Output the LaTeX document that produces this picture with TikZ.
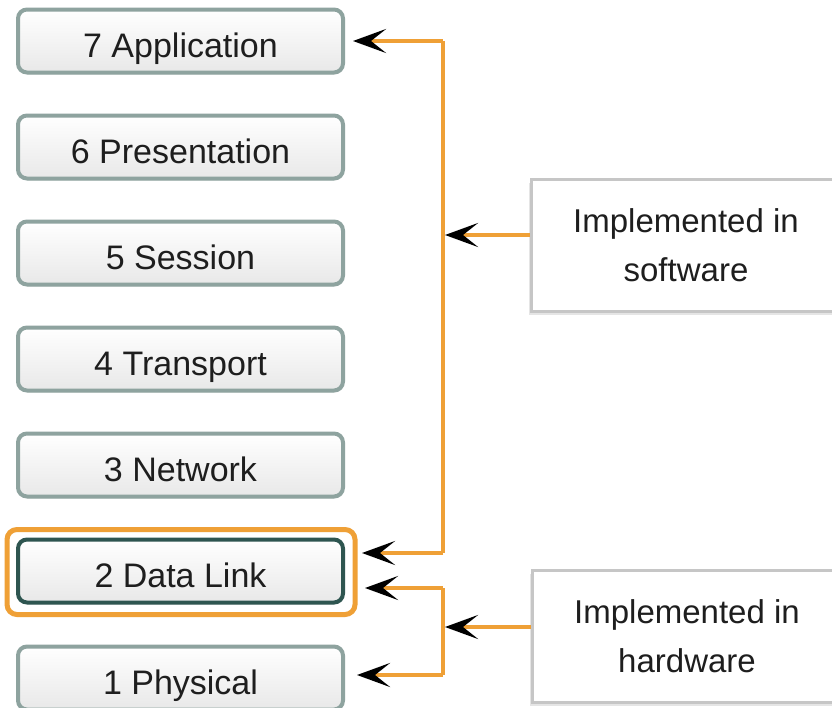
\documentclass[tikz,border=0pt]{standalone}
\usepackage{fontspec}
\setmainfont{Liberation Sans}
\usetikzlibrary{arrows.meta,shadows}

\definecolor{wire}{HTML}{EFA036}
\definecolor{layerline}{HTML}{8EA39F}
\definecolor{activeline}{HTML}{2E5550}
\definecolor{noteline}{HTML}{C6C6C6}
\definecolor{ink}{HTML}{1E1E1E}

\tikzset{
  layer/.style={draw=layerline, line width=4pt, rounded corners=9pt,
    minimum width=325pt, minimum height=63pt, inner sep=0pt,
    text height=40pt, text depth=8pt,
    top color=white, bottom color=black!9, text=ink,
    font=\fontsize{34}{40}\selectfont,
    drop shadow={opacity=0.15, shadow xshift=1pt, shadow yshift=-2pt}},
  note/.style={draw=noteline, line width=3pt, fill=white,
    minimum width=310pt, minimum height=132pt, inner sep=0pt,
    align=center, text=ink,
    font=\fontsize{33}{49}\selectfont,
    drop shadow={opacity=0.2, shadow xshift=-2pt, shadow yshift=-3pt}},
  conn/.style={draw=wire, line width=4pt,
    -{Stealth[black, length=33pt, width=24pt, inset=15pt]}},
  wireline/.style={draw=wire, line width=4pt},
  highlight/.style={draw=wire, line width=5pt, rounded corners=10pt},
}

\begin{document}
\begin{tikzpicture}[x=1pt, y=-1pt]
\useasboundingbox (0,0) rectangle (832,707);
\fill[white] (0,0) rectangle (832,707);

% OSI layer stack
\node[layer] (l7) at (180.5,41)  {7 Application};
\node[layer] (l6) at (180.5,147) {6 Presentation};
\node[layer] (l5) at (180.5,253) {5 Session};
\node[layer] (l4) at (180.5,359) {4 Transport};
\node[layer] (l3) at (180.5,465) {3 Network};
\node[layer, draw=activeline] (l2) at (180.5,571) {2 Data Link};
\node[layer] (l1) at (180.5,678) {1 Physical};

% highlight frame round the data link layer
\draw[highlight] ([shift={(-9,-8)}]l2.north west) rectangle ([shift={(10,10)}]l2.south east);

% explanation boxes
\node[note] (sw) at (686,245.5) {Implemented in\\software};
\node[note] (hw) at (687,636.5) {Implemented in\\hardware};

% software bracket: layers 7 down to 2
\coordinate (swtop) at (443,41);
\coordinate (swbot) at (443,553);
\coordinate (swmid) at (445,235);
\coordinate (t7)  at (353,41);
\coordinate (t2a) at (362,553);
\draw[wireline] (swtop) -- (swbot);
\draw[conn] (swtop) -- (t7);
\draw[conn] (swbot) -- (t2a);
\draw[conn] (sw.west |- swmid) -- (swmid);

% hardware bracket: layers 2 and 1
\coordinate (hwtop) at (443,588);
\coordinate (hwbot) at (443,675);
\coordinate (hwmid) at (445,627);
\coordinate (t2b) at (365,588);
\coordinate (t1)  at (357,675);
\draw[wireline] (hwtop) -- (hwbot);
\draw[conn] (hwtop) -- (t2b);
\draw[conn] (hwbot) -- (t1);
\draw[conn] (hw.west |- hwmid) -- (hwmid);
\end{tikzpicture}
\end{document}
